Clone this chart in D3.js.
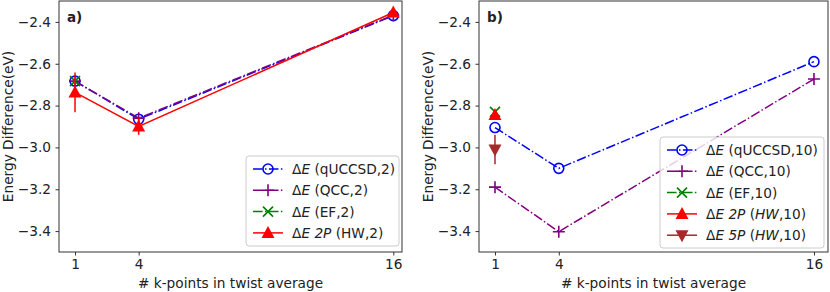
<!DOCTYPE html>
<html lang="en">
<head>
<meta charset="UTF-8">
<title>Energy difference vs k-points</title>
<script src="https://d3js.org/d3.v7.min.js"></script>
<style>
    body { margin: 0; background: #fff; }
    text { font-family: "DejaVu Sans", sans-serif; fill: #222; }
    .tick text { font-size: 13.7px; }
    .axis path, .axis line { stroke: #333; }
</style>
</head>
<body>
<svg id="chart" width="830" height="292"></svg>
<script>
// k-points
const kPoints = [1, 4, 16];
const xTicks = [1, 4, 16];
const yTicks = [-2.4, -2.6, -2.8, -3.0, -3.2, -3.4];

// panel a) values
const quccsd2 = [-2.683, -2.865, -2.37];
const qcc2 = [-2.683, -2.86, -2.368];
const ef2 = [-2.683];
const hw2p2 = [-2.737, -2.90, -2.355];
const hw2p2Err = [0.095, 0.04, 0.01];

// panel b) values
const quccsd10 = [-2.905, -3.10, -2.59];
const qcc10 = [-3.19, -3.403, -2.673];
const ef10 = [-2.83];
const hw2p10 = [-2.845];
const hw2p10Err = [0.015];
const hw5p10 = [-3.01];
const hw5p10Err = [0.07];

const svg = d3.select('#chart');
const dashDot = '9.6,2.4,1.5,2.4';
const fontSize = 13.7;

const panels = [
    {
        label: 'a)', left: 59, right: 402, xDomain: [0.245, 16.41],
        legendBox: [246, 156, 153, 90],
        series: [
            { name: 'qUCCSD,2', values: quccsd2, color: 'blue', dash: dashDot, marker: 'circle' },
            { name: 'QCC,2', values: qcc2, color: 'purple', dash: dashDot, marker: 'plus' },
            { name: 'EF,2', values: ef2, color: 'green', dash: dashDot, marker: 'x' },
            { name: 'HW,2', prefix: '2', values: hw2p2, err: hw2p2Err, color: 'red', dash: null, marker: 'up', hwItalic: false }
        ]
    },
    {
        label: 'b)', left: 479, right: 828, xDomain: [0.248, 16.66],
        legendBox: [660, 137, 164, 111],
        series: [
            { name: 'qUCCSD,10', values: quccsd10, color: 'blue', dash: dashDot, marker: 'circle' },
            { name: 'QCC,10', values: qcc10, color: 'purple', dash: dashDot, marker: 'plus' },
            { name: 'EF,10', values: ef10, color: 'green', dash: dashDot, marker: 'x' },
            { name: ',10', prefix: '2', values: hw2p10, err: hw2p10Err, color: 'red', dash: null, marker: 'up', hwItalic: true },
            { name: ',10', prefix: '5', values: hw5p10, err: hw5p10Err, color: 'brown', dash: null, marker: 'down', hwItalic: true }
        ]
    }
];

const plotTop = 1, plotBottom = 252;

function drawMarker(g, type, x, y, color) {
    if (type === 'circle') {
        g.append('circle').attr('cx', x).attr('cy', y).attr('r', 5)
            .attr('fill', 'none').attr('stroke', color).attr('stroke-width', 1.6);
    } else if (type === 'plus') {
        g.append('path').attr('d', `M${x - 6},${y}H${x + 6}M${x},${y - 6}V${y + 6}`)
            .attr('stroke', color).attr('stroke-width', 1.6);
    } else if (type === 'x') {
        g.append('path').attr('d', `M${x - 5},${y - 5}L${x + 5},${y + 5}M${x - 5},${y + 5}L${x + 5},${y - 5}`)
            .attr('stroke', color).attr('stroke-width', 1.6);
    } else if (type === 'up') {
        g.append('path').attr('d', `M${x},${y - 7}L${x + 6.5},${y + 5}L${x - 6.5},${y + 5}Z`).attr('fill', color);
    } else if (type === 'down') {
        g.append('path').attr('d', `M${x},${y + 7}L${x + 6.5},${y - 5}L${x - 6.5},${y - 5}Z`).attr('fill', color);
    }
}

panels.forEach(p => {
    const x = d3.scaleLinear().domain(p.xDomain).range([p.left, p.right]);
    const y = d3.scaleLinear().domain([-3.5, -2.3]).range([plotBottom, plotTop]);
    const g = svg.append('g');

    // data
    p.series.forEach(s => {
        const pts = s.values.map((v, i) => [kPoints[i], v]);
        if (pts.length > 1) {
            g.append('path')
                .datum(pts)
                .attr('d', d3.line().x(d => x(d[0])).y(d => y(d[1])))
                .attr('fill', 'none')
                .attr('stroke', s.color)
                .attr('stroke-width', 1.5)
                .attr('stroke-dasharray', s.dash);
        }
        if (s.err) {
            pts.forEach((d, i) => {
                g.append('line')
                    .attr('x1', x(d[0])).attr('x2', x(d[0]))
                    .attr('y1', y(d[1] - s.err[i])).attr('y2', y(d[1] + s.err[i]))
                    .attr('stroke', s.color).attr('stroke-width', 1.5);
            });
        }
        pts.forEach(d => drawMarker(g, s.marker, x(d[0]), y(d[1]), s.color));
    });

    // axes
    g.append('g').attr('class', 'axis')
        .attr('transform', `translate(0,${plotBottom})`)
        .call(d3.axisBottom(x).tickValues(xTicks).tickSize(3.5).tickPadding(3.5).tickFormat(d3.format('d')))
        .call(a => a.select('.domain').remove());
    g.append('g').attr('class', 'axis')
        .attr('transform', `translate(${p.left},0)`)
        .call(d3.axisLeft(y).tickValues(yTicks).tickSize(3.5).tickPadding(4.5)
            .tickFormat(d => d3.format('.1f')(d).replace('-', '\u2212')))
        .call(a => a.select('.domain').remove());
    g.append('rect')
        .attr('x', p.left).attr('y', plotTop)
        .attr('width', p.right - p.left).attr('height', plotBottom - plotTop)
        .attr('fill', 'none').attr('stroke', '#333').attr('stroke-width', 1);

    // labels
    g.append('text').attr('x', p.left + 8).attr('y', plotTop + 21)
        .attr('font-weight', 'bold').attr('font-size', 13.5).text(p.label);
    g.append('text')
        .attr('x', (p.left + p.right) / 2).attr('y', 288)
        .attr('text-anchor', 'middle').attr('font-size', fontSize)
        .text('# k-points in twist average');
    g.append('text')
        .attr('transform', `translate(${p.left - 46},${(plotTop + plotBottom) / 2}) rotate(-90)`)
        .attr('text-anchor', 'middle').attr('font-size', fontSize)
        .text('Energy Difference(eV)');

    // legend
    const [lx, ly, lw, lh] = p.legendBox;
    g.append('rect').attr('x', lx).attr('y', ly).attr('width', lw).attr('height', lh)
        .attr('rx', 3).attr('fill', 'rgba(255,255,255,0.8)').attr('stroke', '#ccc');
    p.series.forEach((s, i) => {
        const ry = ly + 13 + i * 21.3;
        g.append('line')
            .attr('x1', lx + 7).attr('x2', lx + 37).attr('y1', ry).attr('y2', ry)
            .attr('stroke', s.color).attr('stroke-width', 1.5).attr('stroke-dasharray', s.dash);
        drawMarker(g, s.marker, lx + 22, ry, s.color);
        const t = g.append('text').attr('x', lx + 46).attr('y', ry + 5).attr('font-size', fontSize);
        t.append('tspan').text('\u0394');
        t.append('tspan').attr('font-style', 'italic').text('E');
        if (s.prefix) {
            t.append('tspan').text(' ');
            t.append('tspan').attr('font-style', 'italic').text(s.prefix + 'P');
            t.append('tspan').text(' (');
            if (s.hwItalic) {
                t.append('tspan').attr('font-style', 'italic').text('HW');
                t.append('tspan').text(s.name + ')');
            } else {
                t.append('tspan').text(s.name + ')');
            }
        } else {
            t.append('tspan').text(' (' + s.name + ')');
        }
    });
});
</script>
</body>
</html>
